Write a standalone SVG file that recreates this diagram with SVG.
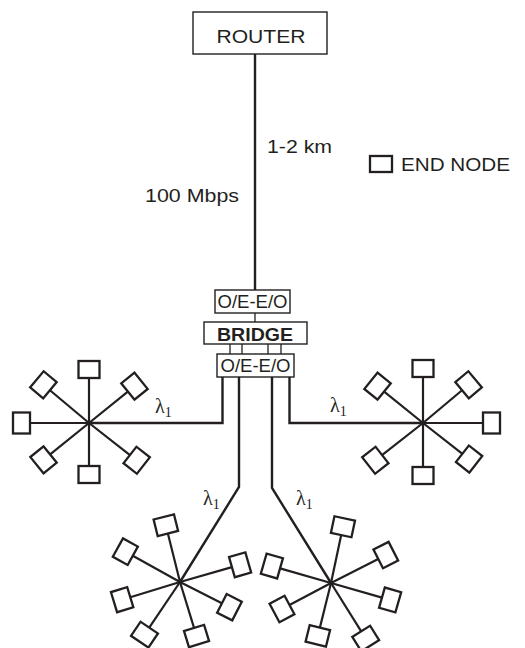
<svg xmlns="http://www.w3.org/2000/svg" width="525" height="648" viewBox="0 0 525 648">
<style>
.box{fill:#fff;stroke:#231f20;stroke-width:1.4}
.t{font-family:"Liberation Sans",Arial,sans-serif;font-size:18px;fill:#231f20}
.b{font-weight:bold}
.l{font-family:"Liberation Serif","Times New Roman",serif;fill:#231f20}
.w{fill:none;stroke:#231f20;stroke-width:2.4;stroke-linejoin:miter}
.thin{stroke:#231f20;stroke-width:1.3}
.sp{stroke:#231f20;stroke-width:2.2}
.en{fill:#fff;stroke:#231f20;stroke-width:2.3}
</style>
<defs>
<rect id="nd" x="-10.5" y="-17" width="21" height="17" class="en"/>
</defs>
<g id="connectors">
<line class="w" x1="255" y1="54" x2="255" y2="290"/>
<line class="thin" x1="255" y1="313" x2="255" y2="322"/>
<line class="thin" x1="230" y1="344" x2="230" y2="354"/>
<line class="thin" x1="242" y1="344" x2="242" y2="354"/>
<line class="thin" x1="268" y1="344" x2="268" y2="354"/>
<line class="thin" x1="281" y1="344" x2="281" y2="354"/>
<polyline class="w" points="222.5,377 222.5,423 89,423"/>
<polyline class="w" points="239,377 239,487 180,582"/>
<polyline class="w" points="272,377 272,488 331,583"/>
<polyline class="w" points="289.5,377 289.5,423 423,423"/>
<g id="spokes-left" class="sp" transform="translate(89 423)">
<line y2="-45"/><line transform="rotate(51)" y2="-50"/><line transform="rotate(-50)" y2="-51"/><line transform="rotate(-90)" y2="-59"/><line transform="rotate(-129)" y2="-50"/><line transform="rotate(180)" y2="-43"/><line transform="rotate(128)" y2="-52"/>
</g>
<g id="spokes-right" class="sp" transform="translate(423 423)">
<line y2="-46"/><line transform="rotate(-51)" y2="-50"/><line transform="rotate(50)" y2="-51"/><line transform="rotate(90)" y2="-60"/><line transform="rotate(128)" y2="-50"/><line transform="rotate(180)" y2="-44"/><line transform="rotate(-128)" y2="-52"/>
</g>
<g id="spokes-bl" class="sp" transform="translate(180 582)">
<line transform="rotate(-14)" y2="-50"/><line transform="rotate(-61)" y2="-54"/><line transform="rotate(-107)" y2="-52"/><line transform="rotate(-146)" y2="-55"/><line transform="rotate(163)" y2="-48"/><line transform="rotate(117)" y2="-47"/><line transform="rotate(74)" y2="-54"/>
</g>
<g id="spokes-br" class="sp" transform="translate(331 583)">
<line transform="rotate(12)" y2="-49"/><line transform="rotate(63)" y2="-53"/><line transform="rotate(106)" y2="-53"/><line transform="rotate(148)" y2="-57"/><line transform="rotate(-166)" y2="-46"/><line transform="rotate(-118)" y2="-47"/><line transform="rotate(-74)" y2="-53"/>
</g>
</g>
<g id="router"><rect class="box" x="193" y="12" width="134" height="42"/><text class="t" x="261" y="43" text-anchor="middle" textLength="89" lengthAdjust="spacingAndGlyphs">ROUTER</text></g>
<g id="oe-top"><rect class="box" x="215" y="290" width="75" height="23"/><text class="t" x="252.5" y="308" text-anchor="middle" textLength="70" lengthAdjust="spacingAndGlyphs">O/E-E/O</text></g>
<g id="bridge"><rect class="box" x="204" y="322" width="103" height="22"/><text class="t b" x="255" y="341" text-anchor="middle" textLength="76" lengthAdjust="spacingAndGlyphs">BRIDGE</text></g>
<g id="oe-bottom"><rect class="box" x="217" y="354" width="77" height="23"/><text class="t" x="255.5" y="372" text-anchor="middle" textLength="70" lengthAdjust="spacingAndGlyphs">O/E-E/O</text></g>
<g id="labels">
<text class="t" x="267" y="153" textLength="65" lengthAdjust="spacingAndGlyphs">1-2 km</text>
<text class="t" x="145" y="202" textLength="94" lengthAdjust="spacingAndGlyphs">100 Mbps</text>
<text class="l" x="155" y="413" font-size="20">λ<tspan font-size="14" dy="4">1</tspan></text>
<text class="l" x="330" y="412" font-size="20">λ<tspan font-size="14" dy="4">1</tspan></text>
<text class="l" x="203" y="505" font-size="20">λ<tspan font-size="14" dy="4">1</tspan></text>
<text class="l" x="296" y="505" font-size="20">λ<tspan font-size="14" dy="4">1</tspan></text>
</g>
<g id="legend"><rect class="en" x="370" y="156" width="22" height="16"/><text class="t" x="401" y="171" textLength="109" lengthAdjust="spacingAndGlyphs">END NODE</text></g>
<g id="star-left">
<use id="nl1" href="#nd" transform="translate(89 423) rotate(0) translate(0 -45)"/>
<use id="nl2" href="#nd" transform="translate(89 423) rotate(51) translate(0 -50)"/>
<use id="nl3" href="#nd" transform="translate(89 423) rotate(-50) translate(0 -51)"/>
<use id="nl4" href="#nd" transform="translate(89 423) rotate(-90) translate(0 -59)"/>
<use id="nl5" href="#nd" transform="translate(89 423) rotate(-129) translate(0 -50)"/>
<use id="nl6" href="#nd" transform="translate(89 423) rotate(180) translate(0 -43)"/>
<use id="nl7" href="#nd" transform="translate(89 423) rotate(128) translate(0 -52)"/>
</g>
<g id="star-right">
<use id="nr1" href="#nd" transform="translate(423 423) rotate(0) translate(0 -46)"/>
<use id="nr2" href="#nd" transform="translate(423 423) rotate(-51) translate(0 -50)"/>
<use id="nr3" href="#nd" transform="translate(423 423) rotate(50) translate(0 -51)"/>
<use id="nr4" href="#nd" transform="translate(423 423) rotate(90) translate(0 -60)"/>
<use id="nr5" href="#nd" transform="translate(423 423) rotate(128) translate(0 -50)"/>
<use id="nr6" href="#nd" transform="translate(423 423) rotate(180) translate(0 -44)"/>
<use id="nr7" href="#nd" transform="translate(423 423) rotate(-128) translate(0 -52)"/>
</g>
<g id="star-bottom-left">
<use id="nbl1" href="#nd" transform="translate(180 582) rotate(-14) translate(0 -50)"/>
<use id="nbl2" href="#nd" transform="translate(180 582) rotate(-61) translate(0 -54)"/>
<use id="nbl3" href="#nd" transform="translate(180 582) rotate(-107) translate(0 -52)"/>
<use id="nbl4" href="#nd" transform="translate(180 582) rotate(-146) translate(0 -55)"/>
<use id="nbl5" href="#nd" transform="translate(180 582) rotate(163) translate(0 -48)"/>
<use id="nbl6" href="#nd" transform="translate(180 582) rotate(117) translate(0 -47)"/>
<use id="nbl7" href="#nd" transform="translate(180 582) rotate(74) translate(0 -54)"/>
</g>
<g id="star-bottom-right">
<use id="nbr1" href="#nd" transform="translate(331 583) rotate(12) translate(0 -49)"/>
<use id="nbr2" href="#nd" transform="translate(331 583) rotate(63) translate(0 -53)"/>
<use id="nbr3" href="#nd" transform="translate(331 583) rotate(106) translate(0 -53)"/>
<use id="nbr4" href="#nd" transform="translate(331 583) rotate(148) translate(0 -57)"/>
<use id="nbr5" href="#nd" transform="translate(331 583) rotate(-166) translate(0 -46)"/>
<use id="nbr6" href="#nd" transform="translate(331 583) rotate(-118) translate(0 -47)"/>
<use id="nbr7" href="#nd" transform="translate(331 583) rotate(-74) translate(0 -53)"/>
</g>
</svg>
